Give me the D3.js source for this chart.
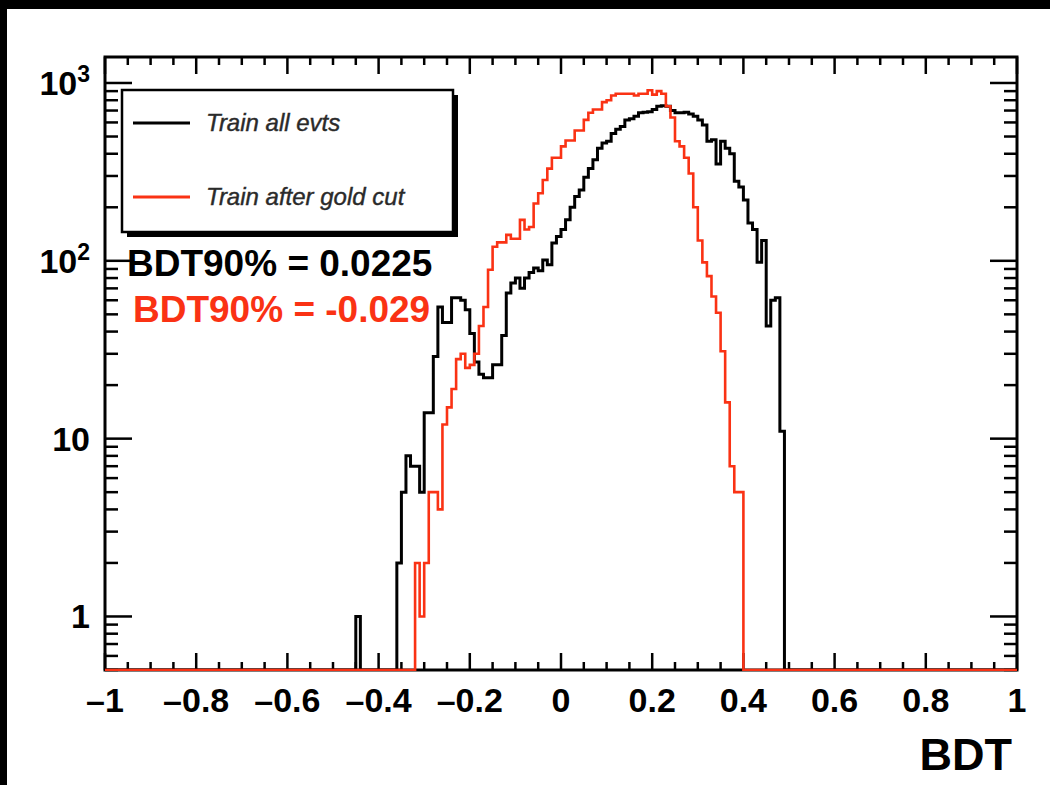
<!DOCTYPE html>
<html>
<head>
<meta charset="utf-8">
<script src="https://cdn.jsdelivr.net/npm/d3@7"></script>
<style>
  body { margin: 0; background: #000; }
  .chart { width: 1050px; height: 785px; }
</style>
</head>
<body>
<div class="chart"></div>
<script>
// histogram binning: 200 bins of 0.01 between -1 and 1
const binEdges = [-1, 1];
const binWidth = 0.01;

// "Train all evts" (black), first bin low edge and contents
const allStart = -0.45;
const allCounts = [
  1, 0, 0, 0, 0, 0, 0, 0, 0,
  2, 5, 8, 7, 7, 5, 14, 14, 29, 55,
  45, 45, 62, 62, 60, 53, 39, 27, 23, 22,
  22, 26, 26, 38, 66, 75, 80, 70, 80, 86,
  91, 88, 101, 95, 126, 137, 150, 170, 200, 230,
  250, 295, 330, 370, 430, 460, 470, 520, 550, 570,
  620, 630, 650, 680, 685, 690, 710, 740, 745, 740,
  700, 680, 680, 685, 670, 650, 620, 580, 470, 480,
  350, 470, 430, 400, 280, 260, 220, 163, 150, 98,
  130, 43, 60, 62, 11
];

// "Train after gold cut" (red)
const goldStart = -0.32;
const goldCounts = [
  2, 1, 2, 5, 5, 4, 12, 15, 19, 28,
  30, 25, 26, 30, 43, 55, 89, 120, 127, 127,
  140, 133, 133, 170, 150, 155, 210, 240, 285, 330,
  380, 380, 440, 475, 475, 540, 540, 620, 680, 710,
  710, 780, 800, 850, 870, 870, 870, 870, 850, 870,
  870, 910, 860, 900, 870, 740, 640, 470, 440, 380,
  310, 200, 130, 98, 82, 63, 51, 31, 16, 7,
  5, 5
];

const xTicks = [-1, -0.8, -0.6, -0.4, -0.2, 0, 0.2, 0.4, 0.6, 0.8, 1];
const yTicks = [1, 10, 100, 1000];
const yTickLabels = ['1', '10', '10²', '10³'];
const yDomain = [0.5, 1400];

const seriesNames = ['Train all evts', 'Train after gold cut'];
const seriesColors = ['#000000', '#fa3214'];
const cutLabels = ['BDT90% = 0.0225', 'BDT90% = -0.029'];
const xTitle = 'BDT';

const width = 1050, height = 785;
const frame = { left: 105, right: 1017, top: 57, bottom: 670 };
const font = '"Liberation Sans", Arial, sans-serif';

const svg = d3.select('.chart')
  .append('svg')
  .attr('width', width)
  .attr('height', height);

// black surround + white pad
svg.append('rect').attr('width', width).attr('height', height).style('fill', '#000');
svg.append('rect')
  .attr('x', 7).attr('y', 9)
  .attr('width', width - 7).attr('height', height - 9)
  .style('fill', '#fff');

const xScale = d3.scaleLinear()
  .domain(binEdges)
  .range([frame.left, frame.right]);

const yScale = d3.scaleLog()
  .domain(yDomain)
  .range([frame.bottom, frame.top]);

// expand a start + counts array into the full 200-bin list
function fullBins(start, counts) {
  const n = Math.round((binEdges[1] - binEdges[0]) / binWidth);
  const offset = Math.round((start - binEdges[0]) / binWidth);
  return d3.range(n).map(i => {
    const c = counts[i - offset];
    return { lo: binEdges[0] + i * binWidth, hi: binEdges[0] + (i + 1) * binWidth, v: c === undefined ? 0 : c };
  });
}

function yOf(v) {
  return v > 0 ? yScale(v) : frame.bottom;
}

function stepPath(bins) {
  let d = `M${xScale(bins[0].lo)},${yOf(bins[0].v)}`;
  bins.forEach((b, i) => {
    if (i > 0) d += `V${yOf(b.v)}`;
    d += `H${xScale(b.hi)}`;
  });
  return d;
}

// ticks (drawn inside the frame on all four sides)
const tickG = svg.append('g');
const xMinor = d3.range(-1, 1.0001, 0.05);
xMinor.forEach(t => {
  const isMajor = Math.abs(Math.round(t * 5) - t * 5) < 1e-6;
  const len = isMajor ? 17 : 8;
  const x = xScale(t);
  tickG.append('line').attr('x1', x).attr('x2', x)
    .attr('y1', frame.bottom).attr('y2', frame.bottom - len);
  tickG.append('line').attr('x1', x).attr('x2', x)
    .attr('y1', frame.top).attr('y2', frame.top + len);
});

const yAll = [];
[0.1, 1, 10, 100, 1000].forEach(dec => {
  d3.range(1, 10).forEach(m => {
    const v = dec * m;
    if (v >= yDomain[0] && v <= yDomain[1]) yAll.push({ v, major: m === 1 });
  });
});
yAll.forEach(t => {
  const y = yScale(t.v);
  const len = t.major ? 27 : 13;
  tickG.append('line').attr('x1', frame.left).attr('x2', frame.left + len)
    .attr('y1', y).attr('y2', y);
  tickG.append('line').attr('x1', frame.right).attr('x2', frame.right - len)
    .attr('y1', y).attr('y2', y);
});
tickG.selectAll('line').style('stroke', '#000').style('stroke-width', 2.5);

// frame
svg.append('rect')
  .attr('x', frame.left).attr('y', frame.top)
  .attr('width', frame.right - frame.left)
  .attr('height', frame.bottom - frame.top)
  .style('fill', 'none').style('stroke', '#000').style('stroke-width', 3);

// tick labels
svg.append('g').selectAll('text')
  .data(xTicks)
  .enter()
  .append('text')
  .attr('x', d => xScale(d))
  .attr('y', 712)
  .attr('text-anchor', 'middle')
  .style('font-family', font)
  .style('font-weight', 'bold')
  .style('font-size', '34px')
  .text(d => d < 0 ? '\u2013' + Math.abs(d) : String(d));

const yLab = svg.append('g').selectAll('text')
  .data(yTicks)
  .enter()
  .append('text')
  .attr('x', 90)
  .attr('y', d => yScale(d) + 12)
  .attr('text-anchor', 'end')
  .style('font-family', font)
  .style('font-weight', 'bold')
  .style('font-size', '34px');
yLab.each(function(d, i) {
  const t = d3.select(this);
  if (d >= 100) {
    t.append('tspan').text('10');
    t.append('tspan').attr('dy', -13).style('font-size', '23px').text(String(Math.round(Math.log10(d))));
  } else {
    t.text(yTickLabels[i]);
  }
});

svg.append('text')
  .attr('x', 1012).attr('y', 770)
  .attr('text-anchor', 'end')
  .style('font-family', font)
  .style('font-weight', 'bold')
  .style('font-size', '45px')
  .text(xTitle);

// histograms, clipped to the frame
svg.append('clipPath').attr('id', 'frameClip')
  .append('rect')
  .attr('x', frame.left).attr('y', frame.top)
  .attr('width', frame.right - frame.left)
  .attr('height', frame.bottom - frame.top + 1);

const histG = svg.append('g').attr('clip-path', 'url(#frameClip)');
[fullBins(allStart, allCounts), fullBins(goldStart, goldCounts)].forEach((bins, i) => {
  histG.append('path')
    .attr('d', stepPath(bins))
    .style('fill', 'none')
    .style('stroke', seriesColors[i])
    .style('stroke-width', i === 0 ? 3 : 2.6);
});

// legend with shadow
const legend = { x: 122, y: 90, w: 331, h: 142 };
svg.append('rect')
  .attr('x', legend.x + 5).attr('y', legend.y + 5)
  .attr('width', legend.w).attr('height', legend.h)
  .style('fill', '#000');
svg.append('rect')
  .attr('x', legend.x).attr('y', legend.y)
  .attr('width', legend.w).attr('height', legend.h)
  .style('fill', '#fff').style('stroke', '#000').style('stroke-width', 2.5);

seriesNames.forEach((name, i) => {
  const y = legend.y + 33 + i * 74;
  svg.append('line')
    .attr('x1', 133).attr('x2', 190)
    .attr('y1', y).attr('y2', y)
    .style('stroke', seriesColors[i]).style('stroke-width', 3);
  svg.append('text')
    .attr('x', 206).attr('y', y + 8)
    .style('font-family', font)
    .style('font-style', 'italic')
    .style('font-size', '24px')
    .style('fill', '#2a2a2a')
    .style('stroke', '#2a2a2a')
    .style('stroke-width', 0.4)
    .text(name);
});

cutLabels.forEach((label, i) => {
  svg.append('text')
    .attr('x', i === 0 ? 127 : 133)
    .attr('y', i === 0 ? 276 : 322)
    .style('font-family', font)
    .style('font-weight', 'bold')
    .style('font-size', '37px')
    .style('fill', seriesColors[i])
    .text(label);
});
</script>
</body>
</html>
